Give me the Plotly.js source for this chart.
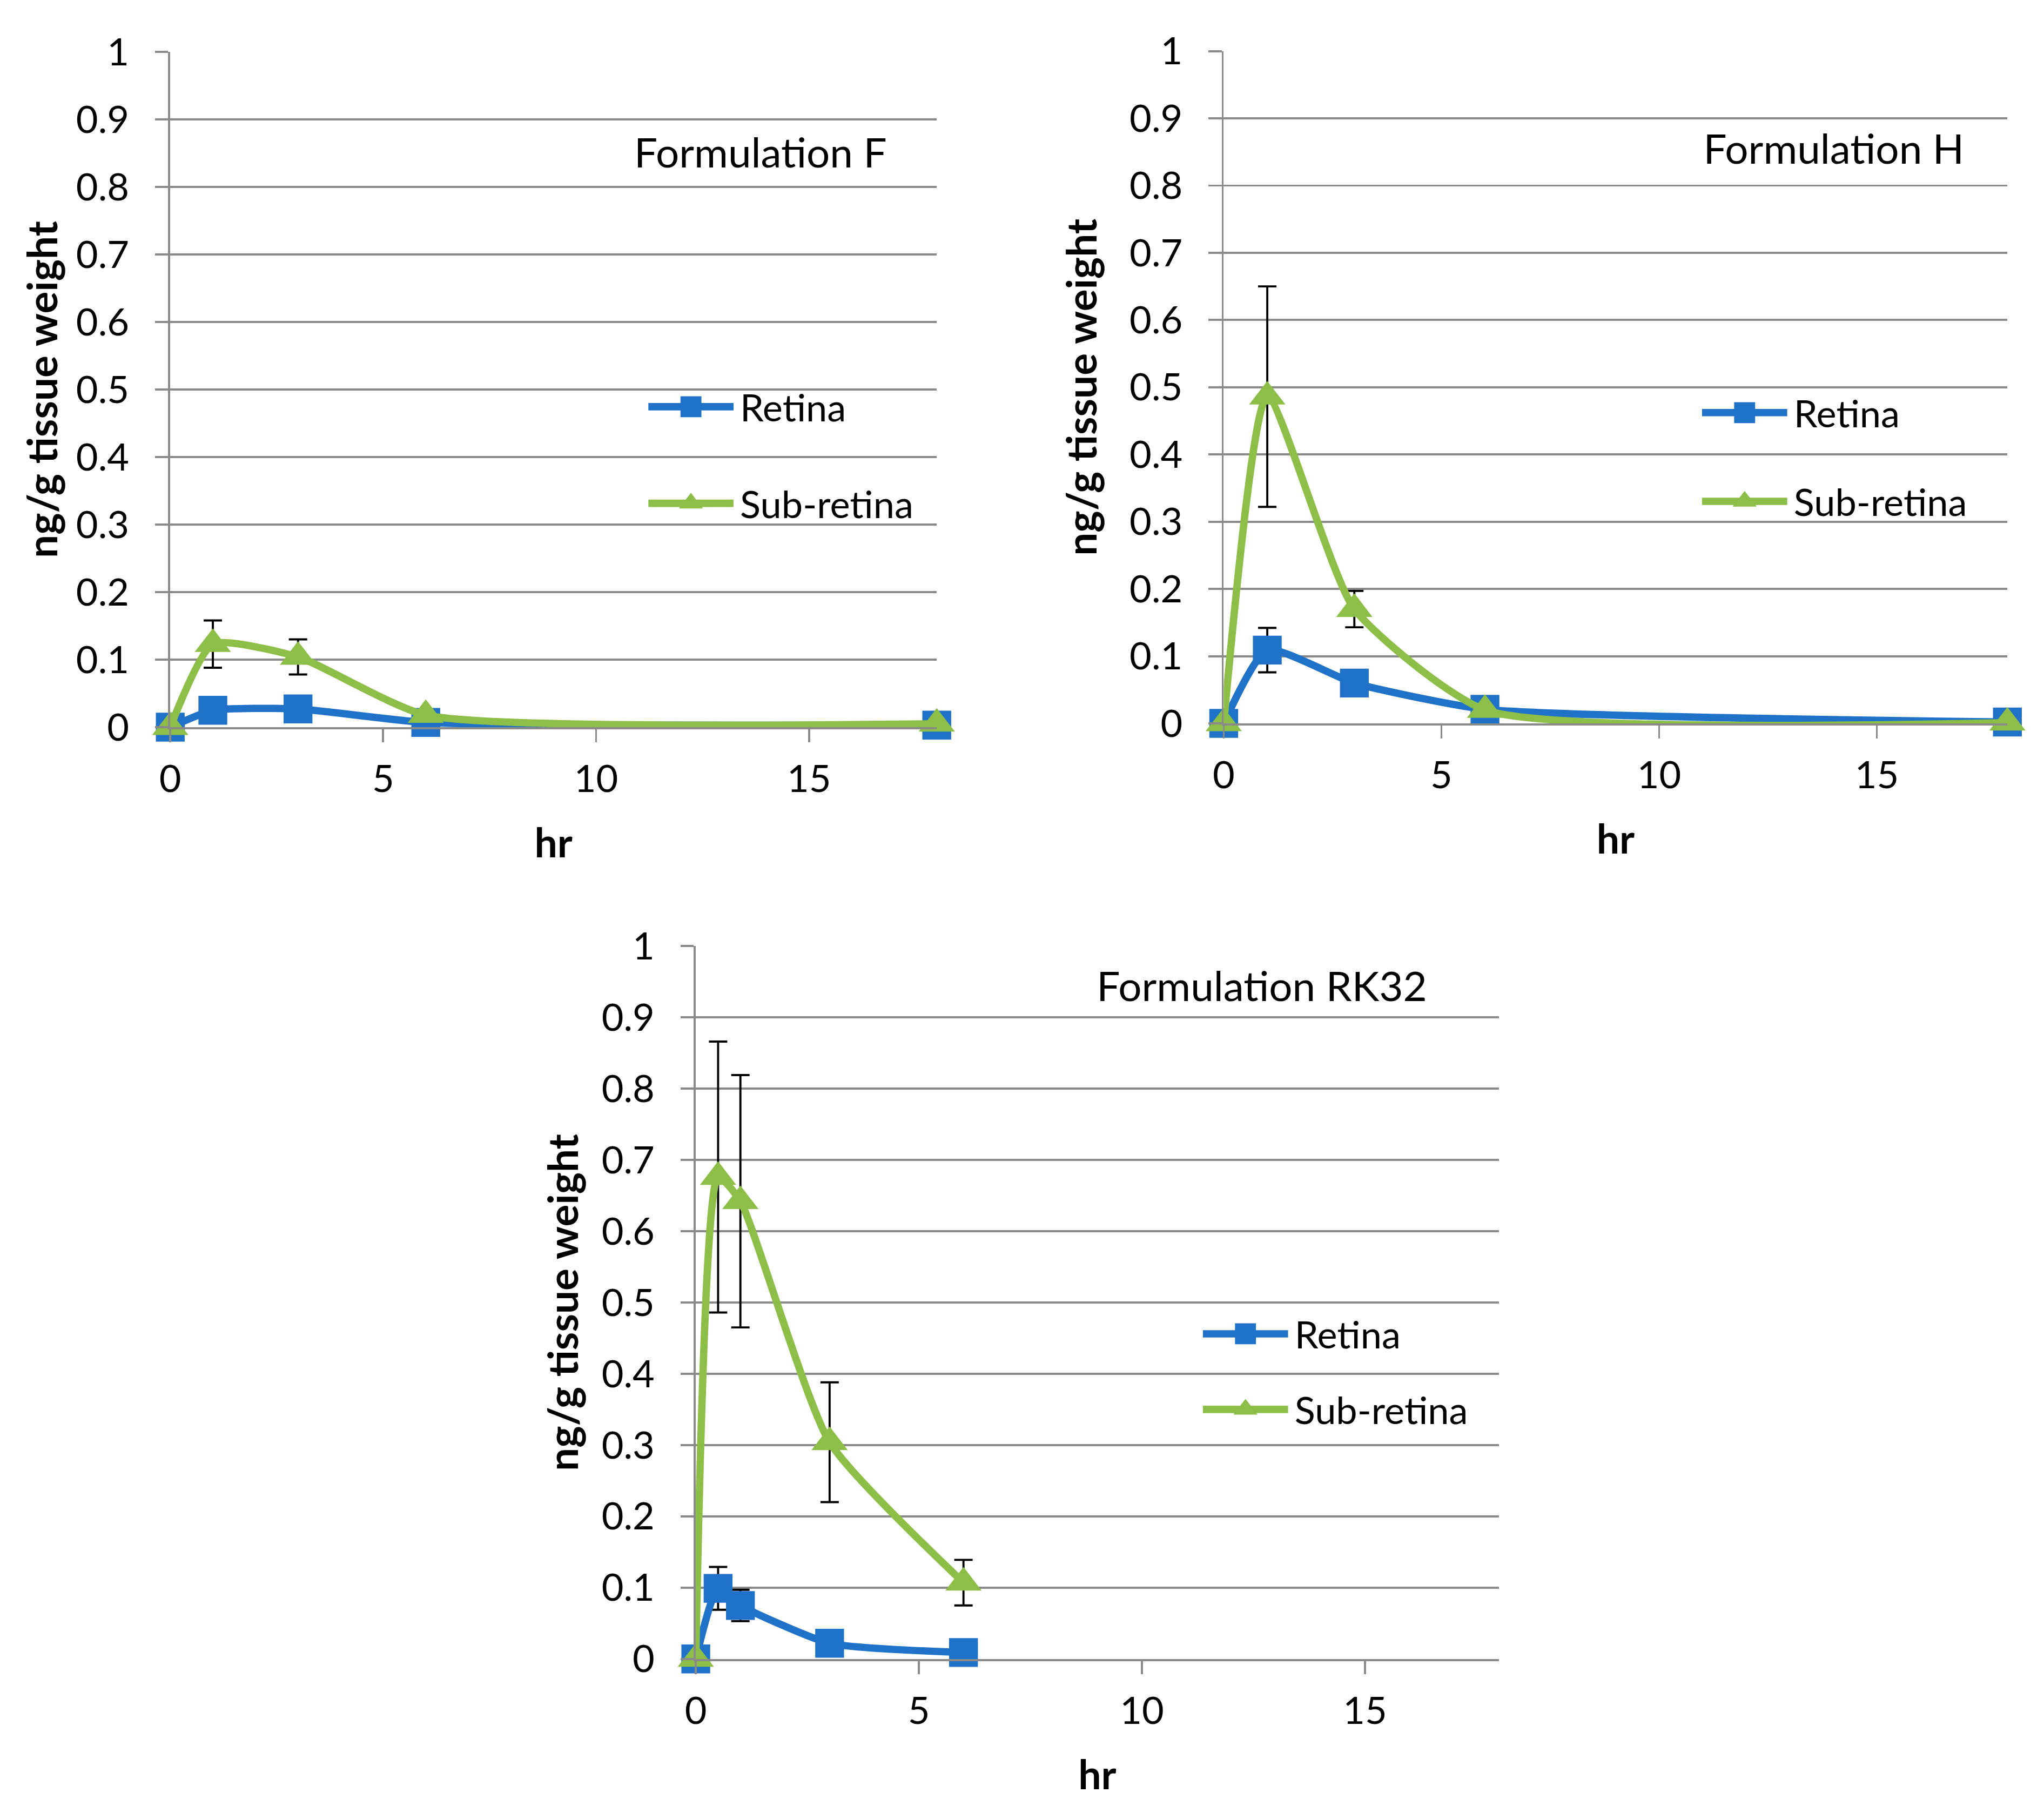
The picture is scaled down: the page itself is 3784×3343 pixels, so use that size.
<!DOCTYPE html>
<html>
<head>
<meta charset="utf-8">
<script src="https://cdn.plot.ly/plotly-3.0.1.min.js"></script>
<style>
html, body { margin: 0; padding: 0; background: #ffffff; overflow: hidden; }
#wrap { width: 3784px; height: 3343px; overflow: hidden; position: relative; }
#chart { width: 1560px; height: 1378px; transform: scale(2.425641); transform-origin: 0 0; position: absolute; left: 0; top: 0; }
</style>
</head>
<body>
<div id="wrap"><div id="chart"></div></div>
<script>
// ---- data (hours vs ng/g tissue weight) ----
const hoursFH = [0, 1, 3, 6, 18];
const hoursRK32 = [0, 0.5, 1, 3, 6];

const retinaF = [0, 0.025, 0.027, 0.007, 0.003];
const retinaErrF = [null, null, null, null, null];
const subRetinaF = [0, 0.123, 0.104, 0.018, 0.005];
const subRetinaErrF = [null, 0.035, 0.026, null, null];

const retinaH = [0, 0.109, 0.06, 0.021, 0.002];
const retinaErrH = [null, 0.033, null, null, null];
const subRetinaH = [0, 0.486, 0.17, 0.02, 0.001];
const subRetinaErrH = [null, 0.164, 0.027, null, null];

const retinaRK32 = [0, 0.099, 0.075, 0.022, 0.009];
const retinaErrRK32 = [null, 0.03, 0.022, null, null];
const subRetinaRK32 = [0, 0.676, 0.642, 0.304, 0.107];
const subRetinaErrRK32 = [null, 0.19, 0.177, 0.084, 0.032];

const panelTitles = ['Formulation F', 'Formulation H', 'Formulation RK32'];
const seriesNames = ['Retina', 'Sub-retina'];
const xTitle = 'hr';
const yTitle = 'ng/g tissue weight';

// ---- styles ----
const blue = '#1f72c8';
const green = '#8cbe48';
const gridColor = '#8a8a8a';
const FONT = 'Lato, "Open Sans", sans-serif';

function seriesTrace(x, y, err, name, color, symbol, xa, ya, legendId, group) {
  return {
    type: 'scatter', mode: 'lines+markers', x: x, y: y, name: name,
    xaxis: xa, yaxis: ya, legend: legendId, legendgroup: group,
    cliponaxis: false,
    line: { color: color, width: 5.6, shape: 'spline', smoothing: 0.55 },
    marker: { color: color, size: symbol === 'square' ? 22 : 24, symbol: symbol, line: { width: 0 } },
    error_y: { type: 'data', array: err, visible: true, symmetric: true, color: '#000000', thickness: 1.6, width: 7 },
    hoverinfo: 'x+y'
  };
}

const traces = [
  seriesTrace(hoursFH, retinaF, retinaErrF, seriesNames[0], blue, 'square', 'x', 'y', 'legend', 'rF'),
  seriesTrace(hoursFH, subRetinaF, subRetinaErrF, seriesNames[1], green, 'triangle-up', 'x', 'y', 'legend', 'sF'),
  seriesTrace(hoursFH, retinaH, retinaErrH, seriesNames[0], blue, 'square', 'x2', 'y2', 'legend2', 'rH'),
  seriesTrace(hoursFH, subRetinaH, subRetinaErrH, seriesNames[1], green, 'triangle-up', 'x2', 'y2', 'legend2', 'sH'),
  seriesTrace(hoursRK32, retinaRK32, retinaErrRK32, seriesNames[0], blue, 'square', 'x3', 'y3', 'legend3', 'rR'),
  seriesTrace(hoursRK32, subRetinaRK32, subRetinaErrRK32, seriesNames[1], green, 'triangle-up', 'x3', 'y3', 'legend3', 'sR')
];

function xAxis(domain, anchor) {
  return {
    domain: domain, anchor: anchor, range: [0, 18], tick0: 0, dtick: 5,
    showgrid: false, zeroline: false, showline: true, linecolor: gridColor, linewidth: 1.6,
    ticks: 'outside', ticklen: 10, tickwidth: 1.6, tickcolor: gridColor,
    tickfont: { family: FONT, size: 29, color: '#000' }, ticklabelstandoff: 3,
    title: { text: xTitle, font: { family: FONT, size: 31, color: '#000', weight: 700 }, standoff: 23 },
    fixedrange: true
  };
}
function yAxis(domain, anchor, standoff) {
  return {
    domain: domain, anchor: anchor, range: [0, 1], tick0: 0, dtick: 0.1,
    showgrid: true, gridcolor: gridColor, gridwidth: 1.6, zeroline: false,
    showline: true, linecolor: gridColor, linewidth: 1.6,
    ticks: 'outside', ticklen: 10, tickwidth: 1.6, tickcolor: gridColor,
    tickfont: { family: FONT, size: 29, color: '#000' }, ticklabelstandoff: 14,
    title: { text: yTitle, font: { family: FONT, size: 31.5, color: '#000', weight: 700 }, standoff: standoff },
    fixedrange: true
  };
}
function legendBox(x, y, gap) {
  return {
    x: x, y: y, xanchor: 'left', yanchor: 'middle', orientation: 'v',
    bgcolor: 'rgba(0,0,0,0)', borderwidth: 0,
    font: { family: FONT, size: 29, color: '#000' },
    itemwidth: 65, tracegroupgap: gap, traceorder: 'grouped'
  };
}
function panelTitle(text, x, y) {
  return { text: text, xref: 'paper', yref: 'paper', x: x, y: y, xanchor: 'center', yanchor: 'middle',
           showarrow: false, font: { family: FONT, size: 31.5, color: '#000' } };
}

const layout = {
  width: 1560, height: 1378,
  margin: { l: 0, r: 0, t: 0, b: 0, pad: 0 },
  paper_bgcolor: '#ffffff', plot_bgcolor: '#ffffff',
  showlegend: true,
  xaxis: xAxis([0.0833, 0.4583], 'y'),
  yaxis: yAxis([0.5973, 0.9713], 'x', 4),
  xaxis2: xAxis([0.5987, 0.9821], 'y2'),
  yaxis2: yAxis([0.5994, 0.9717], 'x2', 15),
  xaxis3: xAxis([0.3404, 0.7333], 'y3'),
  yaxis3: yAxis([0.0813, 0.4761], 'x3', 8),
  legend: legendBox(0.3140, 0.7478, 33),
  legend2: legendBox(0.8295, 0.7467, 27),
  legend3: legendBox(0.5853, 0.2402, 17),
  annotations: [
    panelTitle(panelTitles[0], 0.3718, 0.9158),
    panelTitle(panelTitles[1], 0.8974, 0.9180),
    panelTitle(panelTitles[2], 0.6173, 0.4543)
  ]
};

Plotly.newPlot('chart', traces, layout, { displayModeBar: false, staticPlot: true });
</script>
</body>
</html>
